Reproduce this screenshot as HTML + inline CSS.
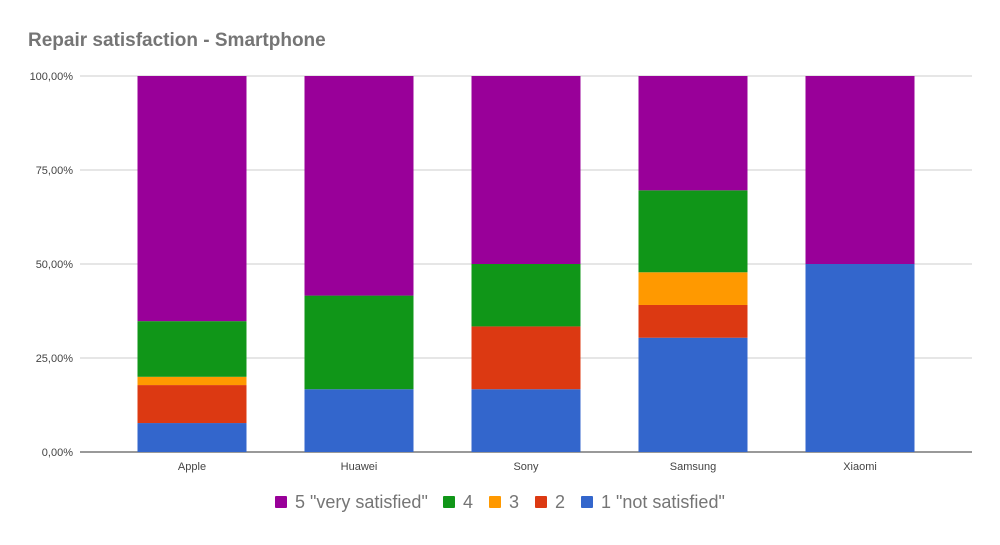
<!DOCTYPE html>
<html><head><meta charset="utf-8"><style>
body{margin:0;background:#fff;font-family:"Liberation Sans",sans-serif}
svg text{font-family:"Liberation Sans",sans-serif}
</style></head><body>
<svg id="c" width="1000" height="540">
<text x="28" y="46" font-size="19" font-weight="bold" fill="#757575">Repair satisfaction - Smartphone</text>
<g id="grid"></g><g id="bars"></g><g id="legend"></g>
</svg>
<script>
const categories=["Apple","Huawei","Sony","Samsung","Xiaomi"];
const s1=[7.7,16.7,16.7,30.4,50];
const s2=[10.1,0,16.7,8.7,0];
const s3=[2.2,0,0,8.7,0];
const s4=[14.8,24.9,16.6,21.8,0];
const s5=[65.2,58.4,50,30.4,50];
const seriesNames=['1 "not satisfied"','2','3','4','5 "very satisfied"'];
const yTicks=[0,25,50,75,100];
const yTickLabels=["0,00%","25,00%","50,00%","75,00%","100,00%"];
const colors=["#3366cc","#dc3912","#ff9900","#109618","#990099"];
const NS="http://www.w3.org/2000/svg";
const y0=452,y1=76,x0=80,x1=972;
const y=v=>y0-(v/100)*(y0-y1);
const xc=i=>192+i*167;
const bw=109;
function mk(t,a,p){const e=document.createElementNS(NS,t);for(const k in a)e.setAttribute(k,a[k]);p.appendChild(e);return e;}
const grid=document.getElementById('grid');
yTicks.forEach((t,i)=>{
 const l=mk('line',{x1:x0,x2:x1,y1:y(t),y2:y(t),stroke:i==0?'#333':'#ccc','stroke-width':1},grid);
 
 
 const tx=mk('text',{x:73,y:y(t)+4,'text-anchor':'end','font-size':11,fill:'#444'},grid);
 tx.textContent=yTickLabels[i];
 
 
});
const bars=document.getElementById('bars');
const series=[s1,s2,s3,s4,s5];
categories.forEach((c,i)=>{
 let acc=0;
 series.forEach((s,j)=>{
  const v=s[i]; if(v<=0)return;
  const r=mk('rect',{x:xc(i)-bw/2,y:y(acc+v),width:bw,height:y(acc)-y(acc+v),fill:colors[j]},bars);
  
  
  acc+=v;
 });
 const t=mk('text',{x:xc(i),y:470,'text-anchor':'middle','font-size':11,fill:'#444'},bars);
 t.textContent=c;
 
 
});
const lg=document.getElementById('legend');
const order=[4,3,2,1,0];
const lx=[275,443,489,535,581];
order.forEach((j,k)=>{
 const r=mk('rect',{x:lx[k],y:496,width:12,height:12,rx:1,fill:colors[j]},lg);
 
 
 const t=mk('text',{x:lx[k]+20,y:508,'font-size':18,fill:'#757575'},lg);
 t.textContent=seriesNames[j];
 
 
});
</script>
</body></html>
